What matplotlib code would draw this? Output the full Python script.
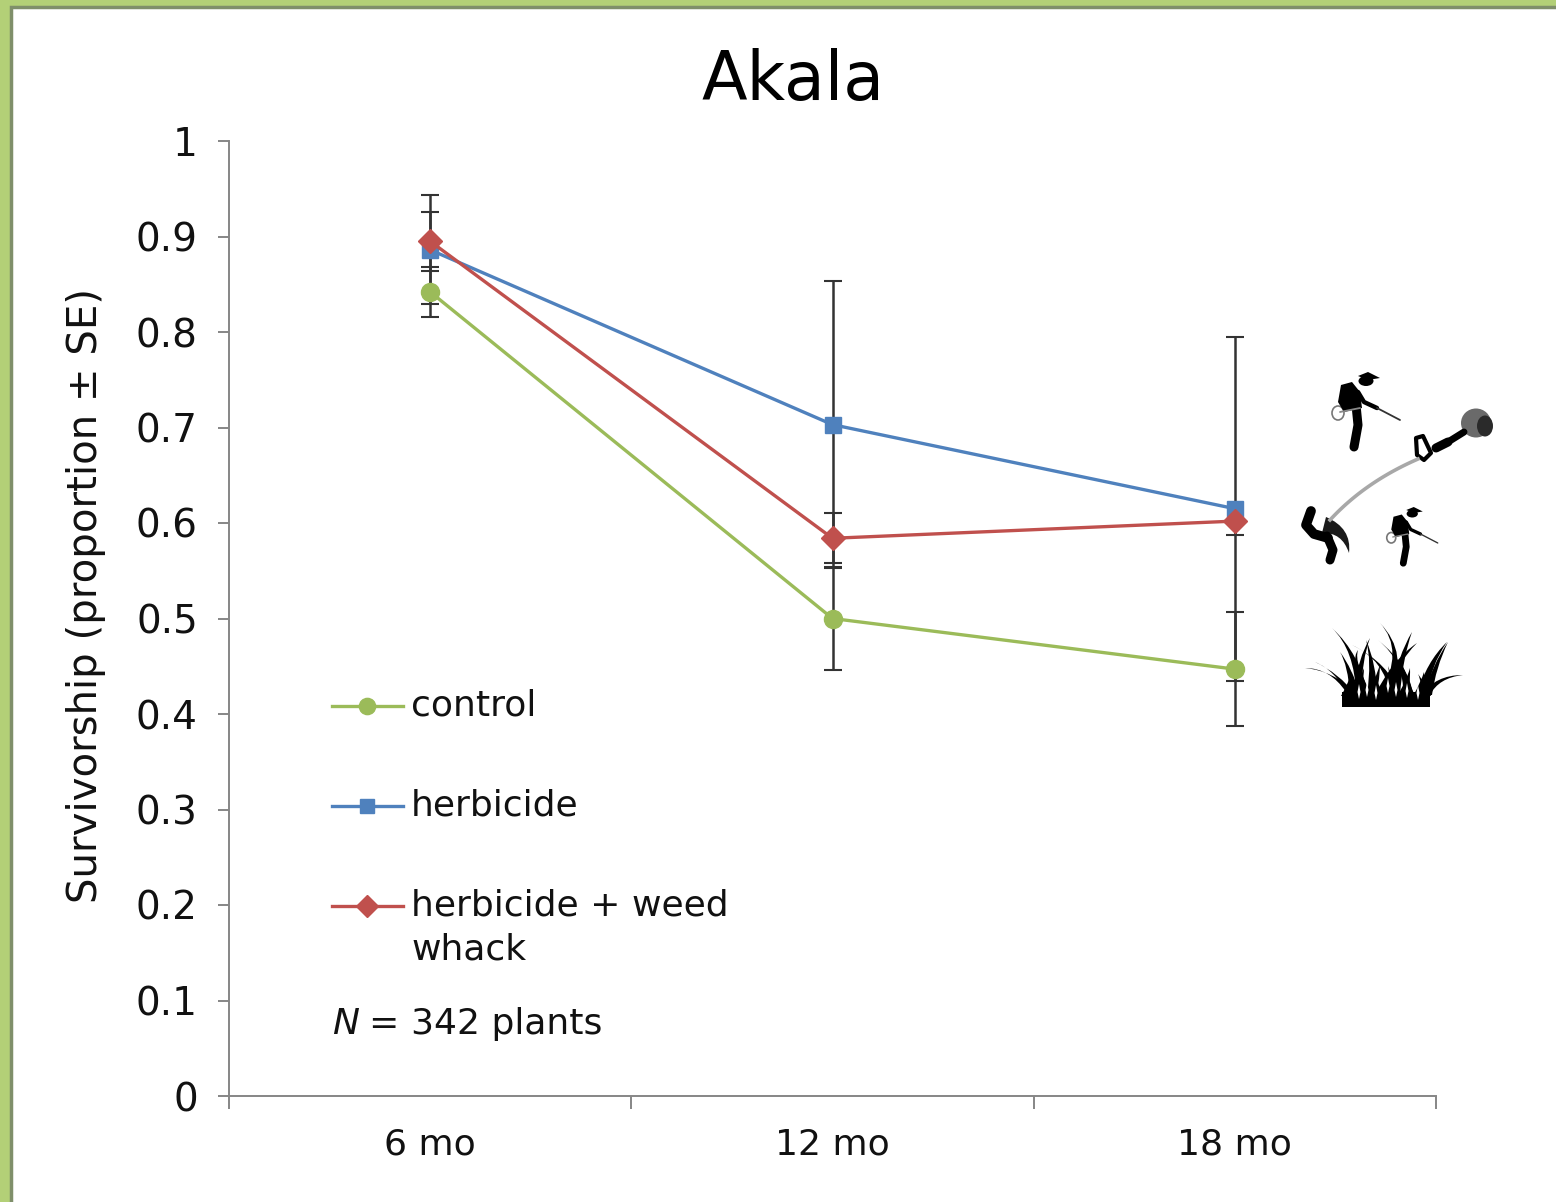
import matplotlib
matplotlib.use("Agg")
import matplotlib.pyplot as plt
from matplotlib.patches import Rectangle, PathPatch, Polygon, Ellipse
from matplotlib.path import Path
import numpy as np

# Data
months = ["6 mo", "12 mo", "18 mo"]
control = [0.842, 0.500, 0.447]
herbicide = [0.886, 0.703, 0.615]
herb_whack = [0.895, 0.584, 0.602]
control_se = [0.026, 0.054, 0.060]
herbicide_se = [0.057, 0.150, 0.180]
herb_whack_se = [0.031, 0.026, 0.015]
y_ticks = [0, 0.1, 0.2, 0.3, 0.4, 0.5, 0.6, 0.7, 0.8, 0.9, 1]
y_labels = ["0", "0.1", "0.2", "0.3", "0.4", "0.5", "0.6", "0.7", "0.8", "0.9", "1"]

W, H = 1556, 1202
GREEN = "#9BBB59"
BLUE = "#4F81BD"
RED = "#C0504D"
INK = "#111111"
FS = 26

plt.rcParams["font.family"] = ["DejaVu Sans"]

fig = plt.figure(figsize=(W / 100, H / 100), dpi=100, facecolor="white")

# slide background + white panel, in pixel coords
bg = fig.add_axes([0, 0, 1, 1], zorder=0)
bg.set_xlim(0, W)
bg.set_ylim(H, 0)
bg.axis("off")
bg.add_patch(Rectangle((0, 0), W, H, color="#B3D077", lw=0))
bg.add_patch(Rectangle((11, 7), W, H, facecolor="white", edgecolor="#7F8F6A", lw=2.5))

# chart
ax = fig.add_axes([229 / W, 1 - 1096 / H, (1436 - 229) / W, (1096 - 141) / H], zorder=2)
ax.patch.set_alpha(0)
x = np.arange(len(months)) + 0.5

series = [
    (control, control_se, GREEN, "o", 13, "control"),
    (herbicide, herbicide_se, BLUE, "s", 11.5, "herbicide"),
    (herb_whack, herb_whack_se, RED, "D", 12.5, "herbicide + weed"),
]
for vals, se, col, mk, ms, lab in series:
    ax.errorbar(x, vals, yerr=se, fmt="none", ecolor="#333333", elinewidth=1.8,
                capsize=6.5, capthick=1.5, zorder=3)
for vals, se, col, mk, ms, lab in series:
    ax.plot(x, vals, color=col, lw=2.4, marker=mk, ms=ms, mec=col, zorder=4, label=lab)

ax.set_xlim(0, 3)
ax.set_ylim(0, 1)
ax.set_xticks([0, 1, 2, 3])
ax.set_xticklabels([])
ax.set_xticks(x, minor=True)
ax.set_xticklabels(months, minor=True, fontsize=FS, color=INK)
ax.tick_params(axis="x", which="major", length=9, direction="out", color="#868686", width=1.4)
ax.tick_params(axis="x", which="minor", length=0, pad=23)
ax.set_yticks(y_ticks)
ax.set_yticklabels(y_labels, fontsize=28, color=INK)
ax.tick_params(axis="y", direction="out", length=8, width=1.4, color="#868686", pad=14.5)
ax.spines["top"].set_visible(False)
ax.spines["right"].set_visible(False)
for s in ["left", "bottom"]:
    ax.spines[s].set_color("#868686")
    ax.spines[s].set_linewidth(1.4)
ax.set_ylabel("Survivorship (proportion ± SE)", fontsize=29, color=INK)
ax.yaxis.set_label_coords((106 - 229) / (1436 - 229), 0.5246)

fig.text(793 / W, 1 - 81 / H, "Akala", fontsize=48, ha="center", va="center", color="black")

# overlay in pixel coords: legend and icons
ov = fig.add_axes([0, 0, 1, 1], zorder=3)
ov.set_xlim(0, W)
ov.set_ylim(H, 0)
ov.axis("off")

leg_y = [706, 806, 906]
for (vals, se, col, mk, ms, lab), ly in zip(series, leg_y):
    ov.plot([332, 403], [ly, ly], color=col, lw=2.4)
    ov.plot([367], [ly], color=col, marker=mk, ms=ms * 0.9, mec=col)
    ov.text(411, ly, lab, fontsize=FS, va="center", color=INK)
ov.text(411, 950, "whack", fontsize=FS, va="center", color=INK)
ov.text(332, 1024, "N", fontsize=FS, style="italic", va="center", color=INK)
ov.text(368, 1024, "=", fontsize=FS, va="center", color=INK)
ov.text(411, 1024, "342 plants", fontsize=FS, va="center", color=INK)


def blade(x0, y0, cx, cy, x1, y1, w):
    verts = [(x0 - w, y0), (cx, cy), (x1, y1), (cx + w * 0.9, cy + w * 0.7), (x0 + w, y0), (x0 - w, y0)]
    codes = [Path.MOVETO, Path.CURVE3, Path.CURVE3, Path.CURVE3, Path.CURVE3, Path.CLOSEPOLY]
    ov.add_patch(PathPatch(Path(verts, codes), fc="black", ec="none"))


def limb(pts, lw, col="black"):
    pts = np.array(pts)
    ov.plot(pts[:, 0], pts[:, 1], color=col, lw=lw, solid_capstyle="round", solid_joinstyle="round")


def sprayer(dx, dy, s):
    def t(p):
        return [(dx + a * s, dy + b * s) for a, b in p]
    ov.add_patch(Ellipse((dx + 1338 * s, dy + 413 * s), 12 * s, 14 * s, fc="none", ec="#777777", lw=1.2))
    limb(t([(1356, 405), (1358, 425), (1354, 447)]), 6.5 * s)
    ov.add_patch(Polygon(t([(1341, 385), (1352, 382), (1360, 392), (1362, 408), (1344, 412), (1338, 402)]), fc="black", lw=0))
    limb(t([(1358, 392), (1364, 402), (1377, 408)]), 3.2 * s)
    limb(t([(1377, 408), (1400, 420)]), 1.3 * s, "#333333")
    limb(t([(1340, 412), (1360, 408)]), 1.3 * s, "#888888")
    ov.add_patch(Ellipse((dx + 1366 * s, dy + 381 * s), 15 * s, 10 * s, fc="black", lw=0))
    ov.add_patch(Polygon(t([(1358, 376), (1368, 372), (1380, 378), (1368, 380)]), fc="black", lw=0))


# spray figures
sprayer(0, 0, 1)
sprayer(387.75, 228, 0.75)

# weed whacker
ov.add_patch(Ellipse((1476, 423), 30, 29, fc="#6A6A6A", ec="none"))
ov.add_patch(Ellipse((1485, 426), 16, 21, fc="#2A2A2A", ec="none"))
limb([(1436, 448), (1448, 442)], 6.5)
limb([(1448, 442), (1464, 432)], 5)
ov.add_patch(Polygon([(1416, 438), (1423, 436), (1431, 453), (1424, 460), (1417, 455)],
                     fc="white", ec="black", lw=3, joinstyle="round"))
t = np.linspace(0, 1, 40)
wx = (1 - t) ** 2 * 1330 + 2 * t * (1 - t) * 1365 + t ** 2 * 1418
wy = (1 - t) ** 2 * 520 + 2 * t * (1 - t) * 482 + t ** 2 * 459
ov.plot(wx, wy, color="#A8A8A8", lw=2.6)
# whacker operator
limb([(1311, 511), (1306, 525), (1314, 534), (1328, 538)], 7)
limb([(1327, 536), (1333, 550), (1330, 560)], 6.5)
ov.add_patch(PathPatch(Path([(1326, 517), (1352, 528), (1349, 553), (1342, 532), (1322, 533), (1326, 517)],
                            [Path.MOVETO, Path.CURVE3, Path.CURVE3, Path.CURVE3, Path.CURVE3, Path.CLOSEPOLY]),
                       fc="#1A1A1A", ec="none"))

# grass clump
ov.add_patch(Rectangle((1342, 692), 88, 15, fc="black", lw=0))
blade(1350, 692, 1330, 668, 1305, 668, 4)
blade(1352, 695, 1335, 670, 1315, 662, 4)
blade(1362, 695, 1355, 650, 1332, 628, 6)
blade(1355, 695, 1348, 665, 1340, 652, 5)
blade(1358, 690, 1358, 658, 1370, 638, 4)
blade(1372, 695, 1372, 660, 1366, 640, 5)
blade(1385, 695, 1405, 650, 1380, 623, 5)
blade(1395, 695, 1398, 655, 1412, 632, 5)
blade(1395, 695, 1385, 660, 1352, 645, 5)
blade(1408, 695, 1405, 662, 1378, 640, 5)
blade(1380, 695, 1392, 660, 1417, 643, 5)
blade(1422, 695, 1426, 662, 1447, 642, 5)
blade(1428, 695, 1432, 665, 1448, 642, 4)
blade(1426, 695, 1435, 675, 1463, 675, 4)
blade(1368, 695, 1350, 660, 1358, 650, 4)
# short blades filling the dark middle of the clump
for gx, tx, ty in [(1346, 1352, 672), (1354, 1364, 668), (1362, 1356, 670), (1370, 1380, 664),
                   (1378, 1372, 668), (1386, 1394, 662), (1394, 1388, 666), (1402, 1410, 668),
                   (1410, 1402, 664), (1418, 1424, 672), (1426, 1418, 674)]:
    blade(gx, 696, (gx + tx) / 2, 682, tx, ty, 5)
# gaps between the blades near the base
for gx, gy in [(1359, 692), (1367, 690), (1376, 693), (1396, 690), (1407, 691), (1418, 693), (1388, 686)]:
    ov.add_patch(Polygon([(gx - 1.5, gy), (gx, gy - 8), (gx + 1.5, gy), (gx, gy + 7)], fc="white", lw=0))

fig.savefig("out.png", dpi=100)
